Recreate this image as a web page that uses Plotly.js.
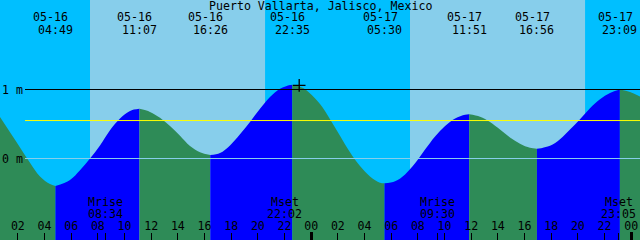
<!DOCTYPE html>
<html>
<head>
<meta charset="utf-8">
<script src="https://cdn.plot.ly/plotly-3.0.1.min.js"></script>
<style>html,body{margin:0;padding:0;background:#00BFFF;}#chart{width:640px;height:240px;}</style>
</head>
<body>
<div id="chart"></div>
<script>
// ---- data ----
const title = 'Puerto Vallarta, Jalisco, Mexico';

// tide curve readings: hours since 05-16 00:00, level in metres
const curveHours = [0.66, 1.41, 2.16, 2.91, 3.66, 4.41, 4.82,
  5.91, 6.66, 7.41, 8.16, 8.91, 9.66, 10.41, 11.12,
  11.91, 12.66, 13.41, 14.16, 14.91, 15.66, 16.43,
  17.16, 17.91, 18.66, 19.41, 20.16, 20.91, 21.66, 22.41, 22.58,
  23.39, 24.66, 25.41, 26.16, 26.91, 27.66, 28.41, 29.16, 29.5,
  30.29, 31.04, 31.79, 32.54, 33.29, 34.04, 34.79, 35.54, 35.85,
  36.66, 37.41, 38.16, 38.91, 39.66, 40.41, 40.93,
  41.91, 42.66, 43.41, 44.16, 44.91, 45.66, 46.41, 47.15,
  47.91, 48.66];
const curveLevels = [0.60, 0.38, 0.16, -0.06, -0.26, -0.37, -0.40,
  -0.31, -0.17, 0.00, 0.19, 0.41, 0.58, 0.69, 0.72,
  0.675, 0.59, 0.47, 0.33, 0.18, 0.09, 0.05,
  0.08, 0.19, 0.35, 0.53, 0.72, 0.89, 1.01, 1.065, 1.07,
  1.02, 0.79, 0.57, 0.33, 0.09, -0.11, -0.26, -0.35, -0.36,
  -0.33, -0.23, -0.07, 0.13, 0.32, 0.47, 0.58, 0.635, 0.64,
  0.605, 0.53, 0.42, 0.305, 0.215, 0.155, 0.14,
  0.185, 0.28, 0.42, 0.57, 0.73, 0.86, 0.95, 1.00,
  0.965, 0.90];

// high / low tide events
const eventDays  = [0, 0, 0, 0, 1, 1, 1, 1];
const eventDates = ['05-16', '05-16', '05-16', '05-16', '05-17', '05-17', '05-17', '05-17'];
const eventTimes = ['04:49', '11:07', '16:26', '22:35', '05:30', '11:51', '16:56', '23:09'];

// moon rise / set
const moonDays   = [0, 0, 1, 1];
const moonLabels = ['Mrise', 'Mset', 'Mrise', 'Mset'];
const moonTimes  = ['08:34', '22:02', '09:30', '23:05'];

// daylight (hours since 05-16 00:00)
const sunriseHours = [7.41, 31.41];
const sunsetHours  = [20.54, 44.54];

// reference levels (m)
const levelValues = [1, 0, 0.55];
const levelLabels = ['1 m', '0 m', ''];

// "+" mark
const markHours  = [23.1];
const markLevels = [1.06];

// x tick labels
const tickHours  = [2,4,6,8,10,12,14,16,18,20,22,24,26,28,30,32,34,36,38,40,42,44,46,48];
const tickLabels = ['02','04','06','08','10','12','14','16','18','20','22','00','02','04','06','08','10','12','14','16','18','20','22','00'];
const midnightHours = [24, 48];

// ---- build ----
const toHour = (d, t) => { const [h, m] = t.split(':').map(Number); return d * 24 + h + m / 60; };
const eventHours = eventTimes.map((t, i) => toHour(eventDays[i], t));
const moonHours = moonTimes.map((t, i) => toHour(moonDays[i], t));

const X_RANGE = [0.66, 48.66];
const Y_RANGE = [-1.181, 2.297];
const BASE = -1.4;
const FONT = 'DejaVu Sans Mono';
const H = 240;
const py = p => 1 - p / H;

const bounds = [curveHours[0], ...eventHours, curveHours[curveHours.length - 1]];
const traces = [];
for (let s = 0; s < bounds.length - 1; s++) {
  const a = bounds[s], b = bounds[s + 1];
  const xs = [], ys = [];
  curveHours.forEach((h, i) => {
    if (h >= a - 0.02 && h <= b + 0.02) { xs.push(h); ys.push(curveLevels[i]); }
  });
  if (xs.length < 2) continue;
  const rising = ys[ys.length - 1] > ys[0];
  traces.push({x: [xs[0], xs[xs.length - 1]], y: [BASE, BASE], mode: 'lines',
    line: {width: 0}, hoverinfo: 'skip', showlegend: false});
  traces.push({x: xs, y: ys, mode: 'lines', fill: 'tonexty',
    fillcolor: rising ? '#0000FF' : '#2E8B57',
    line: {width: 0, shape: 'spline', smoothing: 1}, hoverinfo: 'skip', showlegend: false});
}
// midnight ticks (thick)
traces.push({x: midnightHours, y: midnightHours.map(() => BASE), xaxis: 'x2', mode: 'markers',
  marker: {opacity: 0}, hoverinfo: 'skip', showlegend: false});
// moon ticks
traces.push({x: moonHours, y: moonHours.map(() => BASE), xaxis: 'x3', mode: 'markers',
  marker: {opacity: 0}, hoverinfo: 'skip', showlegend: false});
// plus mark
traces.push({x: markHours, y: markLevels, mode: 'markers',
  marker: {symbol: 'cross-thin', size: 9, color: '#000', line: {width: 1.3, color: '#000'}},
  hoverinfo: 'skip', showlegend: false});

const shapes = [];
sunriseHours.forEach((r, i) => {
  shapes.push({type: 'rect', xref: 'x', yref: 'paper', x0: r, x1: sunsetHours[i], y0: 0, y1: 1,
    fillcolor: '#87CEEB', line: {width: 0}, layer: 'below'});
});
const levelColors = ['#000000', '#87CEEB', '#FFFF00'];
levelValues.forEach((v, i) => {
  shapes.push({type: 'line', xref: 'paper', yref: 'y', x0: 25 / 640, x1: 1, y0: v, y1: v,
    line: {color: levelColors[i], width: 1}, layer: 'above'});
});

const annotations = [];
const txt = (o) => Object.assign({showarrow: false, font: {family: FONT, size: 11.6, color: '#000'}}, o);
annotations.push(txt({text: title, xref: 'paper', yref: 'paper', x: 0.5, y: py(6), xanchor: 'center', yanchor: 'middle'}));
eventHours.forEach((h, i) => {
  annotations.push(txt({text: eventDates[i], xref: 'x', yref: 'paper', x: h, xshift: -4.5, y: py(17), xanchor: 'center', yanchor: 'middle'}));
  annotations.push(txt({text: eventTimes[i], xref: 'x', yref: 'paper', x: h, y: py(30), xanchor: 'center', yanchor: 'middle'}));
});
moonHours.forEach((h, i) => {
  annotations.push(txt({text: moonLabels[i], xref: 'x', yref: 'paper', x: h, y: py(202), xanchor: 'center', yanchor: 'middle'}));
  annotations.push(txt({text: moonTimes[i], xref: 'x', yref: 'paper', x: h, y: py(213.5), xanchor: 'center', yanchor: 'middle'}));
});
levelValues.forEach((v, i) => {
  if (levelLabels[i]) annotations.push(txt({text: levelLabels[i], xref: 'paper', yref: 'y', x: 0, xshift: 0, y: v, xanchor: 'left', yanchor: 'middle'}));
});

const baseAxis = {range: X_RANGE, showgrid: false, zeroline: false, showline: false, fixedrange: true};
const layout = {
  width: 640, height: 240,
  margin: {l: 0, r: 0, t: 0, b: 0, pad: 0},
  paper_bgcolor: '#00BFFF', plot_bgcolor: '#00BFFF',
  showlegend: false,
  xaxis: Object.assign({}, baseAxis, {
    tickmode: 'array', tickvals: tickHours, ticktext: tickLabels,
    ticks: 'inside', ticklen: 7, tickwidth: 1, tickcolor: '#000',
    ticklabelposition: 'inside', tickfont: {family: FONT, size: 11.6, color: '#000'}
  }),
  xaxis2: Object.assign({}, baseAxis, {overlaying: 'x', anchor: 'y', side: 'bottom',
    tickmode: 'array', tickvals: midnightHours, ticks: 'inside', ticklen: 8, tickwidth: 3,
    tickcolor: '#000', showticklabels: false}),
  xaxis3: Object.assign({}, baseAxis, {overlaying: 'x', anchor: 'y', side: 'bottom',
    tickmode: 'array', tickvals: moonHours, ticks: 'inside', ticklen: 7, tickwidth: 1,
    tickcolor: '#000', showticklabels: false}),
  yaxis: {range: Y_RANGE, showgrid: false, zeroline: false, showline: false,
    showticklabels: false, ticks: '', fixedrange: true},
  shapes: shapes,
  annotations: annotations
};
Plotly.newPlot('chart', traces, layout, {staticPlot: true, displayModeBar: false});
</script>
</body>
</html>
